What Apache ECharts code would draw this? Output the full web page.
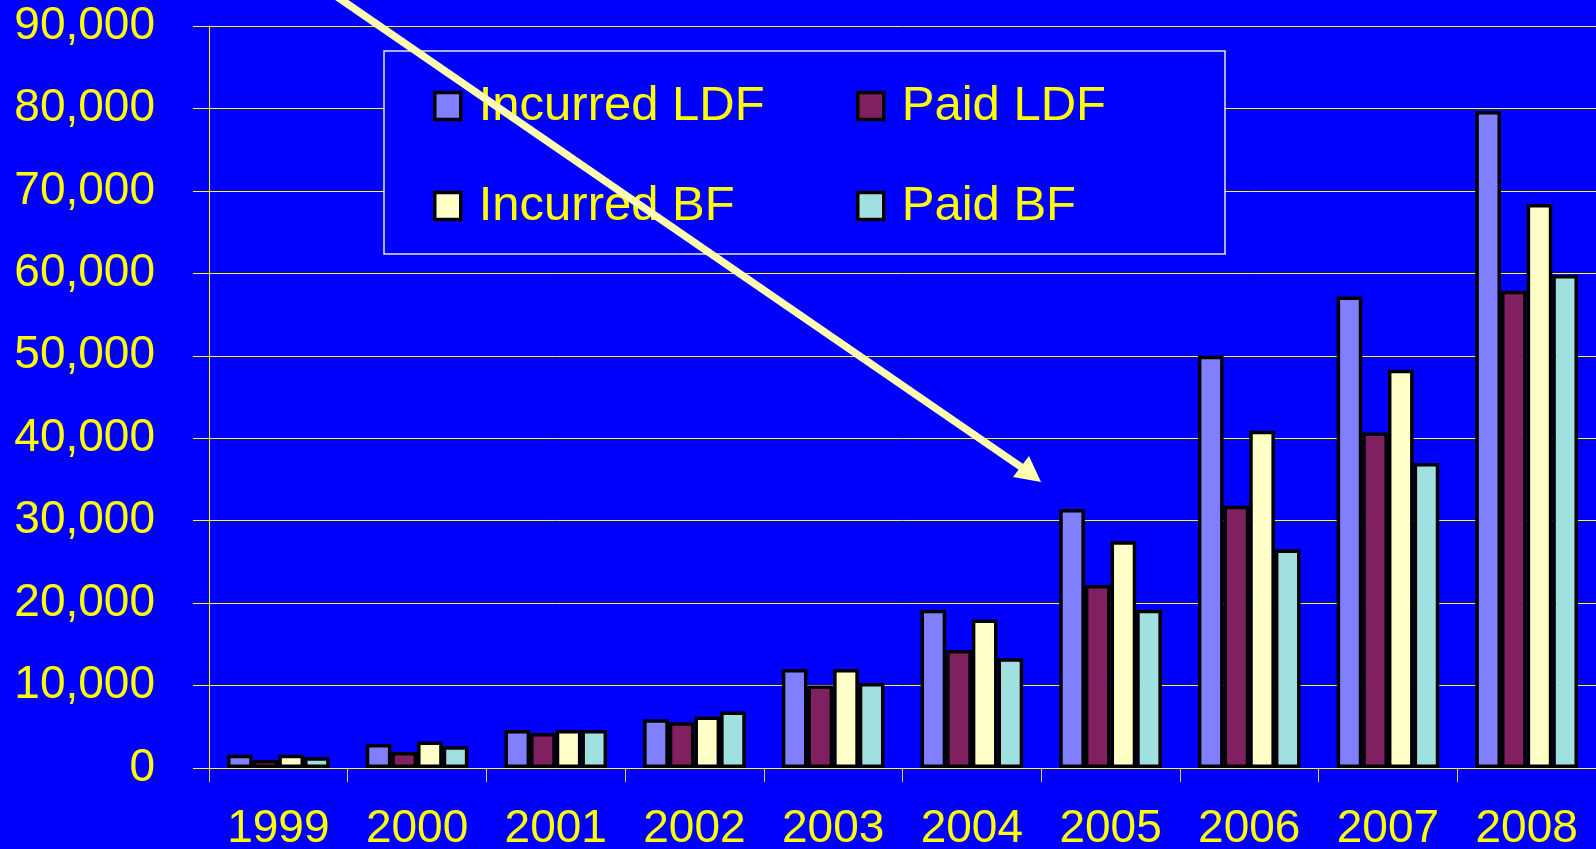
<!DOCTYPE html>
<html>
<head>
<meta charset="utf-8">
<script src="https://cdn.jsdelivr.net/npm/echarts@6/dist/echarts.min.js"></script>
<style>
  html, body { margin:0; padding:0; background:#0000ff; }
  #chart { width:1596px; height:849px; }
</style>
</head>
<body>
<div id="chart"></div>
<script>
const years = ['1999','2000','2001','2002','2003','2004','2005','2006','2007','2008'];
const incurredLDF = [1600, 2900, 4600, 5900, 12000, 19200, 31400, 50000, 57200, 79700];
const paidLDF     = [ 970, 1950, 4250, 5550, 10000, 14300, 22200, 31800, 40700, 57900];
const incurredBF  = [1620, 3200, 4600, 6250, 12000, 18000, 27500, 40900, 48300, 68400];
const paidBF      = [1300, 2650, 4600, 6850, 10300, 13300, 19200, 26500, 37000, 59800];
const yTicks = { min:0, max:90000, interval:10000 };

const font = '"Liberation Sans", Arial, sans-serif';
const yellow = '#ffff00';

function bar(name, data, color) {
  return {
    name, type:'bar', data,
    barGap:'0%', barCategoryGap:'26%',
    itemStyle:{ color, borderColor:'#000', borderWidth:3.5 }
  };
}

const legendBase = {
  orient:'vertical', icon:'rect', padding:0,
  itemWidth:26, itemHeight:27, itemGap:50,
  itemStyle:{ borderColor:'#000', borderWidth:3.5 },
  textStyle:{ color:yellow, fontSize:49, fontFamily:font, lineHeight:50, padding:[0,0,0,13] },
  top:81, selectedMode:false
};

const chart = echarts.init(document.getElementById('chart'));
chart.setOption({
  backgroundColor:'#0000ff',
  animation:false,
  grid:{ left:209, right:0, top:26, bottom:81, containLabel:false, outerBoundsMode:'none' },
  legend:[
    Object.assign({}, legendBase, { left:433, data:['Incurred LDF','Incurred BF'] }),
    Object.assign({}, legendBase, { left:856, data:['Paid LDF','Paid BF'] })
  ],
  xAxis:{
    type:'category', data:years,
    axisLine:{ lineStyle:{ color:yellow, width:1 } },
    axisTick:{ show:true, length:14, lineStyle:{ color:'#d0d060' } },
    axisLabel:{ color:yellow, fontSize:46, fontFamily:font, margin:38 }
  },
  yAxis:{
    type:'value', min:yTicks.min, max:yTicks.max, interval:yTicks.interval,
    axisLine:{ show:true, lineStyle:{ color:yellow, width:1 } },
    axisTick:{ show:true, length:16, lineStyle:{ color:yellow } },
    splitLine:{ lineStyle:{ color:yellow, width:1 } },
    axisLabel:{ color:yellow, fontSize:46, fontFamily:font, margin:54,
      formatter: v => v.toLocaleString('en-US') }
  },
  series:[
    bar('Incurred LDF', incurredLDF, '#8080ff'),
    bar('Paid LDF', paidLDF, '#802060'),
    bar('Incurred BF', incurredBF, '#ffffc8'),
    bar('Paid BF', paidBF, '#a0e0e0')
  ],
  // legend box and the pointing arrow (annotation)
  graphic:[
    { type:'rect', z:3, shape:{ x:384, y:51, width:841, height:203 },
      style:{ fill:'#0000ff', stroke:'#e8e8d8', lineWidth:1.5 } },
    { type:'line', z:100, shape:{ x1:333, y1:-6, x2:1024, y2:469 },
      style:{ stroke:'#ffffb0', lineWidth:7.5 } },
    { type:'polygon', z:100, shape:{ points:[[1041,482],[1029,456],[1013,477]] },
      style:{ fill:'#ffffb0' } }
  ]
});
</script>
</body>
</html>
